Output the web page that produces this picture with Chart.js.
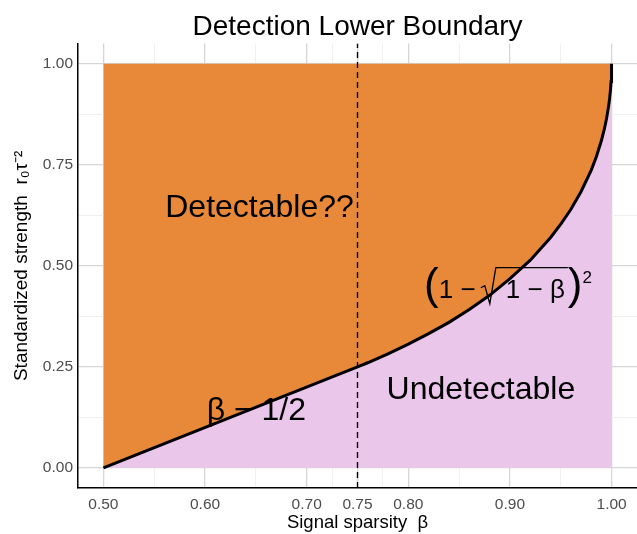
<!DOCTYPE html>
<html>
<head>
<meta charset="utf-8">
<script src="https://cdn.jsdelivr.net/npm/chart.js@4.4.1/dist/chart.umd.min.js"></script>
<style>
html, body { margin: 0; padding: 0; background: #fff; }
</style>
</head>
<body>
<canvas id="boundaryChart" width="637" height="534"></canvas>
<script>
// boundary curve (beta -> standardized strength)
var betaValues = [0.5, 0.75, 0.76, 0.78, 0.80, 0.82, 0.84, 0.86, 0.88, 0.90, 0.92, 0.94, 0.95, 0.96, 0.97, 0.98, 0.985, 0.99, 0.993, 0.995, 0.997, 0.998, 0.999, 0.9995, 0.9999, 1.0];
var rhoValues = [0, 0.25, 0.260, 0.282, 0.306, 0.332, 0.360, 0.392, 0.427, 0.468, 0.514, 0.570, 0.603, 0.640, 0.684, 0.737, 0.770, 0.810, 0.840, 0.864, 0.894, 0.913, 0.938, 0.956, 0.980, 1.0];

// upper edge of the detectable region
var topBeta = [0.5, 1.0];
var topRho = [1.0, 1.0];

// dashed reference line at beta = 3/4
var dashBeta = [0.75, 0.75];
var dashRho = [-0.05, 1.05];

var xMajorTicks = [0.5, 0.6, 0.7, 0.75, 0.8, 0.9, 1.0];
var xMinorTicks = [0.55, 0.65, 0.725, 0.775, 0.85, 0.95];
var yMajorTicks = [0, 0.25, 0.5, 0.75, 1.0];
var yMinorTicks = [0.125, 0.375, 0.625, 0.875];

var FONT = "'Liberation Sans', Arial, sans-serif";
Chart.defaults.font.family = FONT;

function toPoints(xs, ys) {
    return xs.map(function (x, i) { return {x: x, y: ys[i]}; });
}

function tickList(major, minor) {
    return major.concat(minor).sort(function (a, b) { return a - b; });
}

var labelPlugin = {
    id: 'regionLabels',
    afterDatasetsDraw: function (chart) {
        var ctx = chart.ctx;
        var xs = chart.scales.x, ys = chart.scales.y;
        ctx.save();
        ctx.fillStyle = '#000';
        ctx.strokeStyle = '#000';

        ctx.textAlign = 'center';
        ctx.textBaseline = 'alphabetic';
        ctx.font = '32px ' + FONT;
        ctx.fillText('Detectable??', xs.getPixelForValue(0.6536), ys.getPixelForValue(0.621));
        ctx.fillText('Undetectable', xs.getPixelForValue(0.8714), ys.getPixelForValue(0.171));

        ctx.font = '32px ' + FONT;
        ctx.fillText('β − 1/2', xs.getPixelForValue(0.6505), ys.getPixelForValue(0.119));

        // (1 - sqrt(1 - beta))^2
        ctx.textAlign = 'left';
        var x = xs.getPixelForValue(0.8155);
        var base = ys.getPixelForValue(0.421);
        function piece(txt, size, dy) {
            ctx.font = size + 'px ' + FONT;
            ctx.fillText(txt, x, base + dy);
            x += ctx.measureText(txt).width;
        }
        piece('(', 44, 1);
        piece('1 − ', 26, 0);
        var rx = x + 1;
        ctx.font = '26px ' + FONT;
        var innerW = ctx.measureText('1 − β').width;
        ctx.lineWidth = 1.3;
        ctx.beginPath();
        ctx.moveTo(rx - 3, base - 10);
        ctx.lineTo(rx + 1, base - 12);
        ctx.lineTo(rx + 6, base + 6);
        ctx.lineTo(rx + 12, base - 30);
        ctx.lineTo(rx + 22 + innerW + 3, base - 30);
        ctx.stroke();
        x = rx + 22;
        piece('1 − β', 26, 0);
        x += 3;
        piece(')', 44, 1);
        piece('2', 17, -15);
        ctx.restore();
    }
};

var ctx = document.getElementById('boundaryChart');
var boundaryChart = new Chart(ctx, {
    type: 'scatter',
    data: {
        datasets: [
            {
                label: 'boundary',
                data: toPoints(betaValues, rhoValues),
                showLine: true,
                borderColor: '#000',
                borderWidth: 3,
                pointRadius: 0,
                tension: 0,
                fill: 'origin',
                backgroundColor: '#EAC6EA',
                order: 0
            },
            {
                label: 'dashed',
                data: toPoints(dashBeta, dashRho),
                showLine: true,
                borderColor: '#000',
                borderWidth: 1.4,
                borderDash: [6, 4],
                pointRadius: 0,
                fill: false,
                order: 1
            },
            {
                label: 'detectable',
                data: toPoints(betaValues, rhoValues),
                showLine: true,
                borderWidth: 0,
                borderColor: 'rgba(0,0,0,0)',
                pointRadius: 0,
                tension: 0,
                fill: 3,
                backgroundColor: '#E8893A',
                order: 2
            },
            {
                label: 'top',
                data: toPoints(topBeta, topRho),
                showLine: true,
                borderWidth: 0,
                borderColor: 'rgba(0,0,0,0)',
                pointRadius: 0,
                fill: false,
                order: 3
            }
        ]
    },
    options: {
        responsive: false,
        animation: false,
        devicePixelRatio: 1,
        layout: { padding: 0 },
        plugins: {
            legend: { display: false },
            tooltip: { enabled: false },
            filler: { drawTime: 'beforeDatasetsDraw' },
            title: {
                display: true,
                text: 'Detection Lower Boundary',
                color: '#000',
                fullSize: false,
                font: { size: 28, weight: 'normal' },
                padding: { top: 10, bottom: 0 }
            }
        },
        scales: {
            x: {
                type: 'linear',
                min: 0.475,
                max: 1.025,
                afterBuildTicks: function (scale) {
                    scale.ticks = tickList(xMajorTicks, xMinorTicks).map(function (v) { return {value: v}; });
                },
                afterFit: function (scale) { scale.height = 46; },
                ticks: {
                    autoSkip: false,
                    maxRotation: 0,
                    color: '#4d4d4d',
                    font: { size: 15.5 },
                    padding: 7,
                    callback: function (v) { return xMajorTicks.indexOf(v) >= 0 ? v.toFixed(2) : ''; }
                },
                grid: {
                    drawTicks: false,
                    color: function (c) { return c.tick && xMajorTicks.indexOf(c.tick.value) >= 0 ? '#d6d6d6' : '#ececec'; },
                    lineWidth: function (c) { return c.tick && xMajorTicks.indexOf(c.tick.value) >= 0 ? 1.3 : 0.8; }
                },
                border: { display: true, color: '#000', width: 1.5 },
                title: {
                    display: true,
                    text: 'Signal sparsity  β',
                    color: '#000',
                    font: { size: 18.5 },
                    padding: { top: 0, bottom: 0 }
                }
            },
            y: {
                type: 'linear',
                min: -0.05,
                max: 1.05,
                afterBuildTicks: function (scale) {
                    scale.ticks = tickList(yMajorTicks, yMinorTicks).map(function (v) { return {value: v}; });
                },
                afterFit: function (scale) { scale.width = 78; },
                ticks: {
                    autoSkip: false,
                    color: '#4d4d4d',
                    font: { size: 15.5 },
                    padding: 5,
                    callback: function (v) { return yMajorTicks.indexOf(v) >= 0 ? v.toFixed(2) : ''; }
                },
                grid: {
                    drawTicks: false,
                    color: function (c) { return c.tick && yMajorTicks.indexOf(c.tick.value) >= 0 ? '#d6d6d6' : '#ececec'; },
                    lineWidth: function (c) { return c.tick && yMajorTicks.indexOf(c.tick.value) >= 0 ? 1.3 : 0.8; }
                },
                border: { display: true, color: '#000', width: 1.5 },
                title: {
                    display: true,
                    text: 'Standardized strength  r₀τ⁻²',
                    color: '#000',
                    font: { size: 19 },
                    padding: { top: 10, bottom: 0 }
                }
            }
        }
    },
    plugins: [labelPlugin]
});
</script>
</body>
</html>
